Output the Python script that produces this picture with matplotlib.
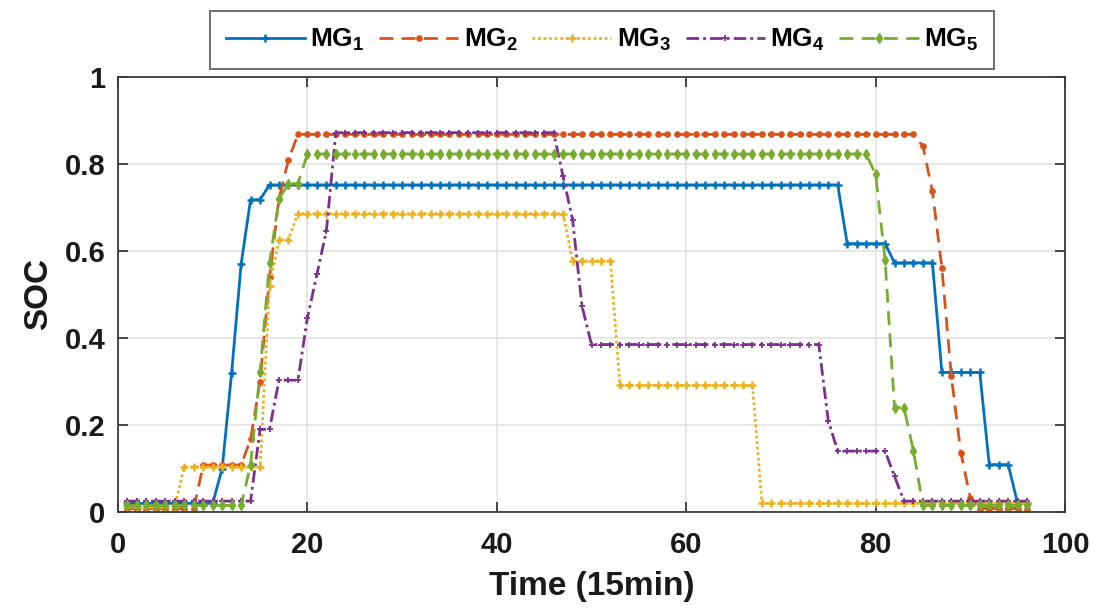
import matplotlib
matplotlib.use("Agg")
import matplotlib.pyplot as plt

plt.rcParams['font.family'] = ['Liberation Sans', 'DejaVu Sans']
plt.rcParams['mathtext.default'] = 'regular'

time = list(range(1, 97))

mg1 = [0.02, 0.02, 0.02, 0.02, 0.02, 0.02, 0.02, 0.02, 0.02, 0.02, 0.10, 0.32,
       0.57, 0.718, 0.718, 0.752, 0.752, 0.752, 0.752, 0.752, 0.752, 0.752, 0.752, 0.752,
       0.752, 0.752, 0.752, 0.752, 0.752, 0.752, 0.752, 0.752, 0.752, 0.752, 0.752, 0.752,
       0.752, 0.752, 0.752, 0.752, 0.752, 0.752, 0.752, 0.752, 0.752, 0.752, 0.752, 0.752,
       0.752, 0.752, 0.752, 0.752, 0.752, 0.752, 0.752, 0.752, 0.752, 0.752, 0.752, 0.752,
       0.752, 0.752, 0.752, 0.752, 0.752, 0.752, 0.752, 0.752, 0.752, 0.752, 0.752, 0.752,
       0.752, 0.752, 0.752, 0.752, 0.617, 0.617, 0.617, 0.617, 0.617, 0.573, 0.573, 0.573,
       0.573, 0.573, 0.321, 0.321, 0.321, 0.321, 0.321, 0.109, 0.109, 0.109, 0.02, 0.02]

mg2 = [0.008, 0.008, 0.008, 0.008, 0.008, 0.008, 0.008, 0.008, 0.108, 0.108, 0.108, 0.108,
       0.108, 0.167, 0.30, 0.54, 0.72, 0.81, 0.868, 0.868, 0.868, 0.868, 0.868, 0.868,
       0.868, 0.868, 0.868, 0.868, 0.868, 0.868, 0.868, 0.868, 0.868, 0.868, 0.868, 0.868,
       0.868, 0.868, 0.868, 0.868, 0.868, 0.868, 0.868, 0.868, 0.868, 0.868, 0.868, 0.868,
       0.868, 0.868, 0.868, 0.868, 0.868, 0.868, 0.868, 0.868, 0.868, 0.868, 0.868, 0.868,
       0.868, 0.868, 0.868, 0.868, 0.868, 0.868, 0.868, 0.868, 0.868, 0.868, 0.868, 0.868,
       0.868, 0.868, 0.868, 0.868, 0.868, 0.868, 0.868, 0.868, 0.868, 0.868, 0.868, 0.868,
       0.841, 0.737, 0.561, 0.312, 0.136, 0.033, 0.008, 0.008, 0.008, 0.008, 0.008, 0.008]

mg3 = [0.012, 0.012, 0.012, 0.012, 0.012, 0.012, 0.104, 0.104, 0.104, 0.104, 0.104, 0.104,
       0.104, 0.104, 0.104, 0.52, 0.626, 0.626, 0.686, 0.686, 0.686, 0.686, 0.686, 0.686,
       0.686, 0.686, 0.686, 0.686, 0.686, 0.686, 0.686, 0.686, 0.686, 0.686, 0.686, 0.686,
       0.686, 0.686, 0.686, 0.686, 0.686, 0.686, 0.686, 0.686, 0.686, 0.686, 0.686, 0.577,
       0.577, 0.577, 0.577, 0.577, 0.291, 0.291, 0.291, 0.291, 0.291, 0.291, 0.291, 0.291,
       0.291, 0.291, 0.291, 0.291, 0.291, 0.291, 0.291, 0.02, 0.02, 0.02, 0.02, 0.02,
       0.02, 0.02, 0.02, 0.02, 0.02, 0.02, 0.02, 0.02, 0.02, 0.02, 0.02, 0.02,
       0.02, 0.02, 0.02, 0.02, 0.02, 0.02, 0.02, 0.02, 0.02, 0.02, 0.02, 0.02]

mg4 = [0.025, 0.025, 0.025, 0.025, 0.025, 0.025, 0.025, 0.025, 0.025, 0.025, 0.025, 0.025,
       0.025, 0.025, 0.19, 0.19, 0.303, 0.303, 0.303, 0.446, 0.546, 0.646, 0.872, 0.872,
       0.872, 0.872, 0.872, 0.872, 0.872, 0.872, 0.872, 0.872, 0.872, 0.872, 0.872, 0.872,
       0.872, 0.872, 0.872, 0.872, 0.872, 0.872, 0.872, 0.872, 0.872, 0.872, 0.772, 0.672,
       0.473, 0.385, 0.385, 0.385, 0.385, 0.385, 0.385, 0.385, 0.385, 0.385, 0.385, 0.385,
       0.385, 0.385, 0.385, 0.385, 0.385, 0.385, 0.385, 0.385, 0.385, 0.385, 0.385, 0.385,
       0.385, 0.385, 0.21, 0.14, 0.14, 0.14, 0.14, 0.14, 0.14, 0.082, 0.025, 0.025,
       0.025, 0.025, 0.025, 0.025, 0.025, 0.025, 0.025, 0.025, 0.025, 0.025, 0.025, 0.025]

mg5 = [0.015, 0.015, 0.015, 0.015, 0.015, 0.015, 0.015, 0.015, 0.015, 0.015, 0.015, 0.015,
       0.015, 0.109, 0.321, 0.573, 0.72, 0.755, 0.755, 0.823, 0.823, 0.823, 0.823, 0.823,
       0.823, 0.823, 0.823, 0.823, 0.823, 0.823, 0.823, 0.823, 0.823, 0.823, 0.823, 0.823,
       0.823, 0.823, 0.823, 0.823, 0.823, 0.823, 0.823, 0.823, 0.823, 0.823, 0.823, 0.823,
       0.823, 0.823, 0.823, 0.823, 0.823, 0.823, 0.823, 0.823, 0.823, 0.823, 0.823, 0.823,
       0.823, 0.823, 0.823, 0.823, 0.823, 0.823, 0.823, 0.823, 0.823, 0.823, 0.823, 0.823,
       0.823, 0.823, 0.823, 0.823, 0.823, 0.823, 0.823, 0.776, 0.58, 0.24, 0.24, 0.14,
       0.015, 0.015, 0.015, 0.015, 0.015, 0.015, 0.015, 0.015, 0.015, 0.015, 0.015, 0.015]

labels = ['MG$_1$', 'MG$_2$', 'MG$_3$', 'MG$_4$', 'MG$_5$']
x_ticks = [0, 20, 40, 60, 80, 100]
y_ticks = [0, 0.2, 0.4, 0.6, 0.8, 1]
y_tick_labels = ['0', '0.2', '0.4', '0.6', '0.8', '1']

colors = ['#0072BD', '#D95319', '#EDB120', '#7E2F8E', '#77AC30']
styles = [
    dict(linestyle='-', marker='+', markersize=6, markeredgewidth=1.8),
    dict(linestyle=(0, (5, 3)), marker='o', markersize=3.8),
    dict(linestyle=(0, (1, 1)), marker='+', markersize=6, markeredgewidth=1.8),
    dict(linestyle=(0, (4.5, 1.5, 1, 1.5)), marker='+', markersize=4, markeredgewidth=1.3),
    dict(linestyle=(0, (5, 3)), marker='d', markersize=4.8),
]

fig = plt.figure(figsize=(11.14, 6.09), dpi=100)
ax = fig.add_axes([118 / 1114, 1 - 512 / 609, (1065 - 118) / 1114, (512 - 77) / 609])

series = [mg1, mg2, mg3, mg4, mg5]
for s, c, st, lab in zip(series, colors, styles, labels):
    ax.plot(time, s, color=c, linewidth=2.0, label=lab, **st)

ax.set_xlim(0, 100)
ax.set_ylim(0, 1)
ax.set_xticks(x_ticks)
ax.set_yticks(y_ticks)
ax.set_yticklabels(y_tick_labels)
ax.grid(True, color='#e3e3e3', linewidth=1.2)
ax.set_axisbelow(True)
for sp in ax.spines.values():
    sp.set_color('#3a3a3a')
    sp.set_linewidth(1.3)
ax.tick_params(direction='in', length=7, width=1.3, colors='#3a3a3a',
               top=True, right=True, labelsize=21, labelcolor='#1a1a1a', pad=9)
ax.tick_params(axis='x', pad=14)
for lab in ax.get_xticklabels() + ax.get_yticklabels():
    lab.set_fontweight('bold')

ax.set_xlabel('Time (15min)', fontsize=24, fontweight='bold', color='#1a1a1a', labelpad=8)
ax.set_ylabel('SOC', fontsize=24, fontweight='bold', color='#1a1a1a', labelpad=8)

leg = fig.legend(loc='center', bbox_to_anchor=(602 / 1114, 1 - 40 / 609), ncol=5,
                 prop={'weight': 'bold', 'size': 19},
                 handlelength=3.0, handletextpad=0.2, columnspacing=0.55,
                 frameon=True, fancybox=False, borderpad=0.6, borderaxespad=0)
leg.get_frame().set_edgecolor('#3a3a3a')
leg.get_frame().set_linewidth(1.3)

fig.savefig('out.png', dpi=100)
